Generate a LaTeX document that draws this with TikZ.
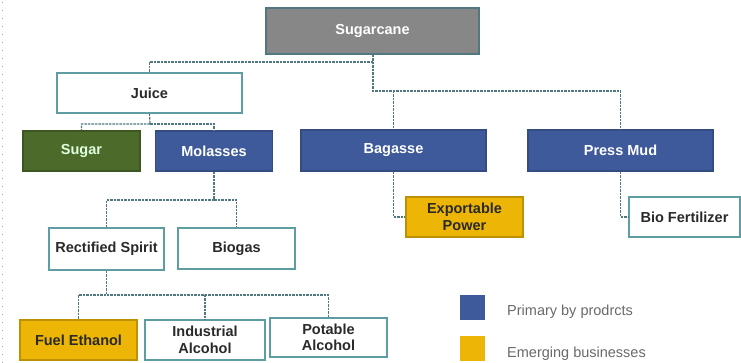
\documentclass[tikz,border=0pt]{standalone}
\usepackage{fontspec}
\setmainfont{Liberation Sans}
\definecolor{tealb}{HTML}{5E9EA3}
\definecolor{conn}{HTML}{4F7880}
\definecolor{grayf}{HTML}{878787}
\definecolor{greenf}{HTML}{4C6B2A}
\definecolor{bluef}{HTML}{3E5A9A}
\definecolor{yellf}{HTML}{EDB505}
\definecolor{txtd}{HTML}{2A2A2A}
\definecolor{legt}{HTML}{6A6A6A}
\tikzset{
  box/.style={draw=tealb, line width=1.3pt, inner sep=0pt, align=center,
    font=\fontsize{14.5}{16.5}\selectfont\bfseries, text=txtd},
  whitebox/.style={box, fill=white},
  graybox/.style={box, fill=grayf, draw=conn, text=white},
  greenbox/.style={box, fill=greenf, draw=greenf!80!black, text=white!88!green},
  bluebox/.style={box, fill=bluef, draw=bluef!85!black, text=white},
  yellbox/.style={box, fill=yellf, draw=yellf!80!black, text=txtd},
  conline/.style={draw=conn, line width=1.2pt, dash pattern=on 2.5pt off 1pt},
  legsq/.style={draw=none, inner sep=0pt, minimum width=25pt, minimum height=25pt},
  legtext/.style={text=legt, font=\fontsize{14.5}{16}\selectfont, inner sep=0pt, anchor=base west}
}
\begin{document}
\begin{tikzpicture}[x=1pt,y=-1pt]
\useasboundingbox (0,0) rectangle (741,363);
\fill[white] (0,0) rectangle (741,363);
% left dotted edge
\draw[gray!70, line width=1.2pt, dash pattern=on 1.2pt off 6.8pt] (2.5,2) -- (2.5,363);

% nodes
\node[graybox, minimum width=213pt, minimum height=46pt] (sugarcane) at (372.5,31) {Sugarcane};
\node[whitebox, minimum width=185pt, minimum height=40pt] (juice) at (149.5,93) {Juice};
\node[greenbox, minimum width=117pt, minimum height=40pt] (sugar) at (81.5,151) {Sugar};
\node[bluebox, minimum width=117pt, minimum height=40pt] (molasses) at (214,151) {Molasses};
\node[bluebox, minimum width=185pt, minimum height=41pt] (bagasse) at (393.5,150.5) {Bagasse};
\node[bluebox, minimum width=185pt, minimum height=41pt] (pressmud) at (620.5,150.5) {Press Mud};
\node[whitebox, minimum width=115pt, minimum height=42pt] (rectified) at (106.5,249) {Rectified Spirit};
\node[whitebox, minimum width=117pt, minimum height=41pt] (biogas) at (236.5,248.5) {Biogas};
\node[yellbox, minimum width=117pt, minimum height=40pt] (exportable) at (464.5,217) {Exportable\\Power};
\node[whitebox, minimum width=111pt, minimum height=40pt] (biofert) at (684.5,217) {Bio Fertilizer};
\node[yellbox, minimum width=117pt, minimum height=40pt] (fuel) at (78.5,340) {Fuel Ethanol};
\node[whitebox, minimum width=120pt, minimum height=40pt] (industrial) at (205,340) {Industrial\\Alcohol};
\node[whitebox, minimum width=117pt, minimum height=39pt] (potable) at (328.5,337.5) {Potable\\Alcohol};

% connectors
\coordinate (s1) at (373,62);
\coordinate (s2) at (373,91);
\draw[conline] (sugarcane.south -| s1) -- (s2) -| (pressmud.north);
\draw[conline] (s1) -| (juice.north);
\draw[conline] (bagasse.north |- s2) -- (bagasse.north);

\coordinate (j1) at (150,124);
\draw[conline] (juice.south) -- (j1) -| (sugar.north);
\draw[conline] (j1) -| (molasses.north);

\coordinate (m1) at (214,200);
\draw[conline] (molasses.south) -- (m1) -| (rectified.north);
\draw[conline] (m1) -| (biogas.north);

\draw[conline] (bagasse.south) |- (exportable.west);
\draw[conline] (pressmud.south) |- (biofert.west);

\coordinate (r1) at (106.5,295);
\draw[conline] (rectified.south) -- (r1) -| (fuel.north);
\draw[conline] (r1) -| (industrial.north);
\draw[conline] (r1) -| (potable.north);

% legend
\node[legsq, fill=bluef] (lblue) at (472.5,307.5) {};
\node[legsq, fill=yellf] (lyell) at (472.5,348.5) {};
\node[legtext] (lt1) at (507,315) {Primary by prodrcts};
\node[legtext] (lt2) at (507,357.5) {Emerging businesses};
\end{tikzpicture}
\end{document}
